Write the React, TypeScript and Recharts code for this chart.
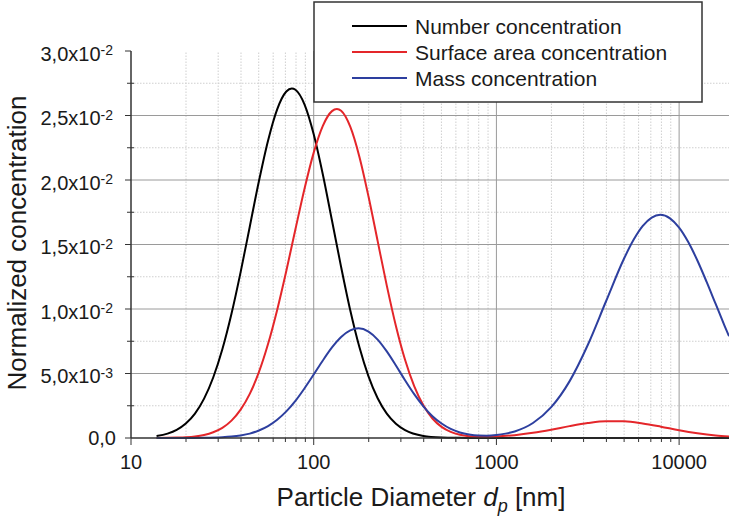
import { LineChart, Line, XAxis, YAxis, ReferenceLine, Legend, Label } from 'recharts';

// diameters in nm, normalized values
const numberD = [13.8, 15.85, 17.78, 19.95, 22.39, 25.12, 28.18, 31.62, 35.48, 39.81, 44.67, 50.12, 56.23, 63.1, 70.79, 75.86, 79.43, 89.13, 100, 112.2, 125.9, 141.3, 158.5, 177.8, 199.5, 223.9, 251.2, 281.8, 316.2, 398.1, 501.2, 631, 794.3, 1000, 2000, 5000, 18750];
const numberC = [0.00015, 0.00034, 0.00063, 0.00112, 0.00189, 0.00305, 0.00469, 0.00688, 0.00963, 0.01286, 0.01638, 0.0199, 0.02305, 0.02548, 0.02686, 0.0271, 0.027, 0.02585, 0.02355, 0.02043, 0.01686, 0.01325, 0.0099, 0.00705, 0.00478, 0.00308, 0.00189, 0.00111, 0.00061, 0.00016, 0.00004, 0.00001, 0, 0, 0, 0, 0];

const surfaceD = [13.8, 15.85, 17.78, 19.95, 22.39, 25.12, 28.18, 31.62, 35.48, 39.81, 44.67, 50.12, 56.23, 63.1, 70.79, 79.43, 89.13, 100, 112.2, 125.9, 134, 141.3, 158.5, 177.8, 199.5, 223.9, 251.2, 281.8, 316.2, 354.8, 398.1, 446.7, 501.2, 562.3, 631, 707.9, 794.3, 891.3, 1000, 1259, 1585, 1995, 2512, 3162, 3981, 5012, 6310, 7943, 10000, 12589, 15849, 18750];
const surfaceC = [0, 0.00001, 0.00003, 0.00006, 0.00012, 0.00024, 0.00045, 0.00079, 0.00135, 0.0022, 0.00342, 0.0051, 0.00728, 0.00993, 0.01295, 0.01618, 0.01934, 0.02212, 0.0242, 0.02534, 0.0255, 0.02536, 0.02413, 0.02181, 0.01872, 0.01526, 0.01181, 0.00868, 0.00606, 0.00402, 0.00253, 0.00151, 0.00086, 0.00047, 0.00025, 0.00014, 0.0001, 0.00009, 0.00011, 0.00022, 0.0004, 0.00064, 0.00092, 0.00116, 0.0013, 0.00129, 0.00113, 0.00088, 0.0006, 0.00037, 0.0002, 0.00012];

const massD = [13.8, 19.95, 25.12, 31.62, 35.48, 39.81, 44.67, 50.12, 56.23, 63.1, 70.79, 79.43, 89.13, 100, 112.2, 125.9, 141.3, 158.5, 176, 199.5, 223.9, 251.2, 281.8, 316.2, 354.8, 398.1, 446.7, 501.2, 562.3, 631, 707.9, 794.3, 891.3, 1000, 1122, 1259, 1585, 1995, 2512, 3162, 3981, 5012, 5623, 6310, 7079, 7890, 8913, 10000, 11220, 12589, 14125, 15849, 17783, 18750];
const massC = [0, 0.000003, 0.000013, 0.000056, 0.00011, 0.0002, 0.00034, 0.00058, 0.00092, 0.00141, 0.00206, 0.00288, 0.00386, 0.00492, 0.00601, 0.00702, 0.00783, 0.00834, 0.0085, 0.00825, 0.00763, 0.00671, 0.00562, 0.00448, 0.0034, 0.00246, 0.00169, 0.00112, 0.0007, 0.00043, 0.00027, 0.00019, 0.00018, 0.00023, 0.00034, 0.00051, 0.00116, 0.00239, 0.00439, 0.00721, 0.0106, 0.01395, 0.01534, 0.01642, 0.01709, 0.0173, 0.01703, 0.01631, 0.01519, 0.01376, 0.01212, 0.01039, 0.00866, 0.00789];

const seriesNames = ['Number concentration', 'Surface area concentration', 'Mass concentration'];
const seriesColors = ['#000000', '#e4262a', '#2d3f9f'];

const majorX = [10, 100, 1000, 10000];
const minorX = [20, 30, 40, 50, 60, 70, 80, 90, 200, 300, 400, 500, 600, 700, 800, 900, 2000, 3000, 4000, 5000, 6000, 7000, 8000, 9000];
const majorY = [0, 0.005, 0.01, 0.015, 0.02, 0.025, 0.03];
const minorY = [0.0025, 0.0075, 0.0125, 0.0175, 0.0225, 0.0275];

const toRows = (d: number[], c: number[]) => d.map((x, i) => ({ d: x, v: c[i] }));
const seriesData = [toRows(numberD, numberC), toRows(surfaceD, surfaceC), toRows(massD, massC)];

const FONT = '"Liberation Sans", Arial, sans-serif';

const XTick = ({ x, y, payload }: any) => {
	const major = majorX.includes(payload.value);
	return (
		<g>
			<line x1={x} x2={x} y1={y} y2={y + (major ? 7 : 4)} stroke='#333' strokeWidth={1} />
			{major && (
				<text x={x} y={y + 31} textAnchor='middle' fontSize={20} fontFamily={FONT} fill='#1a1a1a'>
					{payload.value}
				</text>
			)}
		</g>
	);
};

const YTick = ({ x, y, payload }: any) => {
	const v = payload.value;
	const major = majorY.some((m) => Math.abs(m - v) < 1e-9);
	if (!major) {
		return <line x1={x - 4} x2={x + 3} y1={y} y2={y} stroke='#333' strokeWidth={1} />;
	}
	let label;
	if (v === 0) {
		label = (
			<text x={x - 15} y={y + 7} textAnchor='end' fontSize={20} fontFamily={FONT} fill='#1a1a1a'>
				0,0
			</text>
		);
	} else {
		const exp = Math.floor(Math.log10(v) + 1e-9);
		const mant = (v / Math.pow(10, exp)).toFixed(1).replace('.', ',');
		label = (
			<text x={x - 18} y={y + 9.5} textAnchor='end' fontSize={20} fontFamily={FONT} fill='#1a1a1a'>
				<tspan>{`${mant}x10`}</tspan>
				<tspan dy={-5.5} fontSize={14}>{`${exp}`}</tspan>
			</text>
		);
	}
	return (
		<g>
			<line x1={x - 6} x2={x} y1={y} y2={y} stroke='#333' strokeWidth={1} />
			{label}
		</g>
	);
};

const renderLegend = () => (
	<svg width={391} height={104} style={{ display: 'block' }}>
		<rect x={1} y={1} width={388} height={100} fill='#fff' stroke='#333' strokeWidth={1.5} />
		{seriesNames.map((name, i) => (
			<g key={`leg-${i}`}>
				<line x1={39} x2={94} y1={25 + i * 26} y2={25 + i * 26} stroke={seriesColors[i]} strokeWidth={2} />
				<text x={102} y={33 + i * 26} fontSize={21} fontFamily={FONT} fill='#1a1a1a'>
					{name}
				</text>
			</g>
		))}
	</svg>
);

const XTitle = () => (
	<text x={421} y={506} textAnchor='middle' fontSize={26} fontFamily={FONT} fill='#1a1a1a'>
		<tspan>Particle Diameter </tspan>
		<tspan fontStyle='italic'>d</tspan>
		<tspan fontStyle='italic' fontSize={18} dy={6}>p</tspan>
		<tspan dy={-6}> [nm]</tspan>
	</text>
);

const YTitle = () => (
	<text transform='translate(26,243) rotate(-90)' textAnchor='middle' fontSize={26} fontFamily={FONT} fill='#1a1a1a'>
		Normalized concentration
	</text>
);

const App = () => {
	return (
		<div style={{ width: 730, height: 522, background: '#fff' }}>
			<style>{'body{margin:0;background:#fff}'}</style>
			<LineChart width={730} height={522} margin={{ top: 51, right: 1, bottom: 0, left: 0 }}>
				<XAxis
					dataKey='d'
					type='number'
					scale='log'
					domain={[10, 18750]}
					allowDataOverflow
					ticks={[...majorX, ...minorX]}
					interval={0}
					height={84}
					tickSize={0}
					tickMargin={0}
					tickLine={false}
					axisLine={{ stroke: '#333', strokeWidth: 1.5 }}
					tick={<XTick />}
				>
					<Label content={<XTitle />} />
				</XAxis>
				<YAxis
					type='number'
					domain={[0, 0.03]}
					ticks={[...majorY, ...minorY]}
					interval={0}
					width={131}
					tickSize={0}
					tickMargin={0}
					tickLine={false}
					axisLine={{ stroke: '#333', strokeWidth: 1.5 }}
					tick={<YTick />}
				>
					<Label content={<YTitle />} />
				</YAxis>
				{minorX.map((v) => (
					<ReferenceLine key={`mx-${v}`} x={v} stroke='#cfcfcf' strokeDasharray='1.5 1.5' />
				))}
				{minorY.map((v) => (
					<ReferenceLine key={`my-${v}`} y={v} stroke='#cfcfcf' strokeDasharray='1.5 1.5' />
				))}
				{majorX.slice(1).map((v) => (
					<ReferenceLine key={`gx-${v}`} x={v} stroke='#9a9a9a' />
				))}
				{majorY.slice(1, 6).map((v) => (
					<ReferenceLine key={`gy-${v}`} y={v} stroke='#9a9a9a' />
				))}
				{seriesNames.map((name, i) => (
					<Line
						key={name}
						data={seriesData[i]}
						dataKey='v'
						name={name}
						type='monotone'
						stroke={seriesColors[i]}
						strokeWidth={2}
						dot={false}
						isAnimationActive={false}
					/>
				))}
				<Legend
					layout='vertical'
					align='center'
					verticalAlign='middle'
					content={renderLegend}
					wrapperStyle={{ left: 313, top: 1, width: 391, height: 104 }}
				/>
			</LineChart>
		</div>
	);
};

export default App;
